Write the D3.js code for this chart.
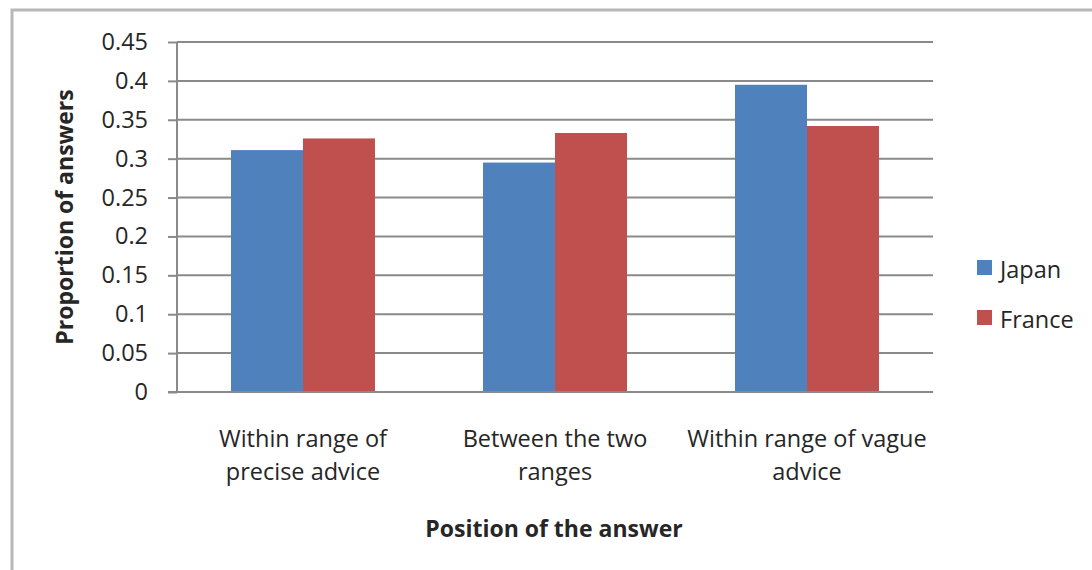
<!DOCTYPE html>
<html>
<head>
<meta charset="utf-8">
<script src="https://cdn.jsdelivr.net/npm/d3@7"></script>
<style>
  html, body { margin: 0; padding: 0; background: #fff; }
  svg { display: block; font-family: "Open Sans", "DejaVu Sans", sans-serif; }
</style>
</head>
<body>
<svg id="chart" width="1092" height="570"></svg>
<script>
// Proportion of answers by position, Japan vs France
const categories = [
  ["Within range of", "precise advice"],
  ["Between the two", "ranges"],
  ["Within range of vague", "advice"]
];
const seriesNames = ["Japan", "France"];
const japanValues = [0.311, 0.295, 0.395];
const franceValues = [0.326, 0.333, 0.342];
const yTicks = [0, 0.05, 0.1, 0.15, 0.2, 0.25, 0.3, 0.35, 0.4, 0.45];
const colors = ["#4F81BD", "#C0504D"];

const svg = d3.select("#chart");
const textColor = "#262626";
const labelSize = "23.5px";
const titleSize = "23px";

// outer chart frame
svg.append("rect")
  .attr("x", 12).attr("y", 10)
  .attr("width", 1100).attr("height", 600)
  .attr("fill", "#fff")
  .attr("stroke", "#b8b8b8").attr("stroke-width", 3);

const plot = { left: 177, right: 933, top: 42, bottom: 392 };

const x0 = d3.scaleBand()
  .domain(d3.range(categories.length))
  .range([plot.left, plot.right])
  .paddingInner(0.428571).paddingOuter(0.214286);
const x1 = d3.scaleBand()
  .domain(seriesNames)
  .range([0, x0.bandwidth()]);
const y = d3.scaleLinear().domain([0, 0.45]).range([plot.bottom, plot.top]);

// horizontal gridlines
svg.append("g")
  .selectAll("line")
  .data(yTicks.slice(1))
  .join("line")
  .attr("x1", plot.left).attr("x2", plot.right)
  .attr("y1", d => y(d)).attr("y2", d => y(d))
  .attr("stroke", "#8a8a8a").attr("stroke-width", 2);

// bars
const table = categories.map((c, i) => ({ i, values: [japanValues[i], franceValues[i]] }));
svg.append("g")
  .selectAll("g")
  .data(table)
  .join("g")
  .attr("transform", d => `translate(${x0(d.i)},0)`)
  .selectAll("rect")
  .data(d => d.values.map((v, k) => ({ name: seriesNames[k], v, k })))
  .join("rect")
  .attr("x", d => x1(d.name))
  .attr("width", x1.bandwidth())
  .attr("y", d => y(d.v))
  .attr("height", d => y(0) - y(d.v))
  .attr("fill", d => colors[d.k]);

// y axis
const yAxis = d3.axisLeft(y)
  .tickValues(yTicks)
  .tickFormat(d => d3.format("")(+d.toFixed(2)))
  .tickSize(9)
  .tickPadding(20);
const gy = svg.append("g")
  .attr("transform", `translate(${plot.left},0)`)
  .call(yAxis);
gy.select(".domain").attr("stroke", "#8a8a8a").attr("stroke-width", 2)
  .attr("d", `M0,${plot.top}V${plot.bottom}`);
gy.selectAll(".tick line").attr("stroke", "#8a8a8a").attr("stroke-width", 2);
gy.selectAll(".tick text")
  .attr("fill", textColor)
  .style("font-size", labelSize)
  .attr("font-family", "'Open Sans', sans-serif");

// x axis baseline
svg.append("line")
  .attr("x1", plot.left - 9).attr("x2", plot.right)
  .attr("y1", y(0)).attr("y2", y(0))
  .attr("stroke", "#8a8a8a").attr("stroke-width", 2);

// category labels
svg.append("g")
  .selectAll("text")
  .data(categories)
  .join("text")
  .attr("x", (d, i) => x0(i) + x0.bandwidth() / 2)
  .attr("y", 447)
  .attr("text-anchor", "middle")
  .attr("fill", textColor)
  .style("font-size", labelSize)
  .selectAll("tspan")
  .data(d => d)
  .join("tspan")
  .attr("x", function () { return this.parentNode.getAttribute("x"); })
  .attr("dy", (d, j) => j === 0 ? 0 : 33)
  .text(d => d);

// axis titles
svg.append("text")
  .attr("x", 554).attr("y", 537)
  .attr("text-anchor", "middle")
  .attr("fill", textColor)
  .style("font-size", titleSize).style("font-weight", "bold")
  .text("Position of the answer");

svg.append("text")
  .attr("transform", "translate(73,217) rotate(-90)")
  .attr("text-anchor", "middle")
  .attr("fill", textColor)
  .style("font-size", titleSize).style("font-weight", "bold")
  .text("Proportion of answers");

// legend
const legend = svg.append("g")
  .selectAll("g")
  .data(seriesNames)
  .join("g")
  .attr("transform", (d, i) => `translate(977,${260 + i * 50})`);
legend.append("rect")
  .attr("width", 15).attr("height", 15)
  .attr("fill", (d, i) => colors[i]);
legend.append("text")
  .attr("x", 23).attr("y", 18)
  .attr("fill", textColor)
  .style("font-size", labelSize)
  .text(d => d);
</script>
</body>
</html>
